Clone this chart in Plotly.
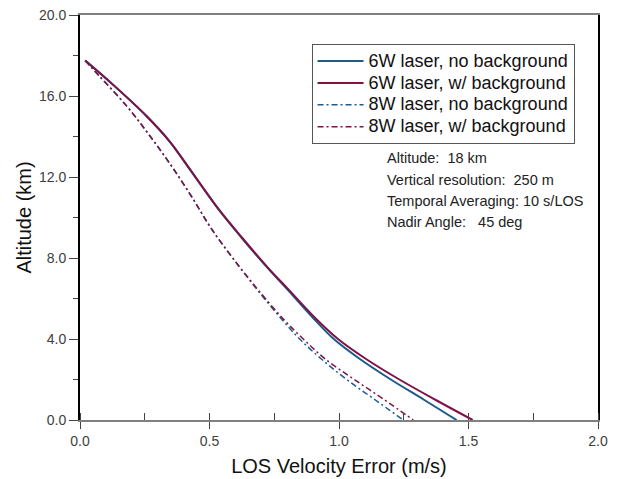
import plotly.graph_objects as go

# ---- data ----
alt_6w = [17.75, 16.5, 15.0, 13.75, 12.5, 10.5, 9.0, 7.5, 6.5, 5.0, 4.0, 3.0, 2.0, 1.0, 0.0]
err_6w_nobg = [0.020, 0.132, 0.257, 0.346, 0.417, 0.529, 0.624, 0.725, 0.797, 0.903, 0.980, 1.082, 1.200, 1.328, 1.454]
err_6w_bg = [0.020, 0.133, 0.258, 0.347, 0.418, 0.530, 0.626, 0.727, 0.801, 0.911, 0.996, 1.106, 1.233, 1.372, 1.516]

alt_8w = [17.75, 17.0, 15.5, 14.0, 12.5, 11.0, 9.5, 8.0, 6.5, 5.0, 4.0, 3.0, 2.0, 1.0, 0.0]
err_8w_nobg = [0.020, 0.073, 0.180, 0.271, 0.355, 0.432, 0.504, 0.589, 0.680, 0.777, 0.848, 0.933, 1.030, 1.139, 1.248]
err_8w_bg = [0.020, 0.074, 0.181, 0.272, 0.356, 0.433, 0.505, 0.590, 0.683, 0.784, 0.862, 0.948, 1.059, 1.175, 1.287]

series_names = ["6W laser, no background", "6W laser, w/ background",
                "8W laser, no background", "8W laser, w/ background"]

notes = ["Altitude:\u00a0 18 km", "Vertical resolution:\u00a0 250 m",
         "Temporal Averaging: 10 s/LOS", "Nadir Angle:\u00a0\u00a0 45 deg"]

BLUE = "#1d5b8c"
PURPLE = "#7d1447"
FONT = "Arial, Liberation Sans, sans-serif"
DASHDOT = "6px,3px,2px,3px"


def legend_label(s):
    # larger glyphs inside a compact legend row
    return "<span style='font-size:18px'>" + s + "</span>"


fig = go.Figure()
fig.add_trace(go.Scatter(x=err_6w_nobg, y=alt_6w, mode="lines", name=legend_label(series_names[0]),
                         line=dict(color=BLUE, width=2, shape="spline", smoothing=1)))
fig.add_trace(go.Scatter(x=err_6w_bg, y=alt_6w, mode="lines", name=legend_label(series_names[1]),
                         line=dict(color=PURPLE, width=2, shape="spline", smoothing=1)))
fig.add_trace(go.Scatter(x=err_8w_nobg, y=alt_8w, mode="lines", name=legend_label(series_names[2]),
                         line=dict(color=BLUE, width=1.5, dash=DASHDOT,
                                   shape="spline", smoothing=1)))
fig.add_trace(go.Scatter(x=err_8w_bg, y=alt_8w, mode="lines", name=legend_label(series_names[3]),
                         line=dict(color=PURPLE, width=1.5, dash=DASHDOT,
                                   shape="spline", smoothing=1)))

note_y = [0.647, 0.593, 0.540, 0.488]
for t, yy in zip(notes, note_y):
    fig.add_annotation(text=t, xref="paper", yref="paper", x=0.589, y=yy,
                       xanchor="left", yanchor="middle", showarrow=False,
                       font=dict(family=FONT, size=14.5, color="#222222"))

# page has an 8px body margin, so the figure is sized/margined to compensate
fig.update_layout(
    width=612, height=471,
    margin=dict(l=72, r=22, t=7, b=59),
    paper_bgcolor="white", plot_bgcolor="white",
    font=dict(family=FONT, color="#333333"),
    showlegend=True,
    legend=dict(x=0.447, y=0.928, xanchor="left", yanchor="top",
                bgcolor="white", bordercolor="#555555", borderwidth=1,
                font=dict(family=FONT, size=14.5, color="#111111"),
                itemwidth=46, tracegroupgap=0),
    xaxis=dict(range=[0, 2], dtick=0.5, tick0=0, tickformat=".1f",
               automargin=False, showgrid=False, zeroline=False,
               showline=True, linecolor="#808080", linewidth=1.5, mirror=True,
               ticks="outside", ticklen=7, tickcolor="#444444", tickwidth=1,
               minor=dict(dtick=0.25, ticks="inside", ticklen=7, tickcolor="#444444"),
               ticklabeloverflow="allow",
               tickfont=dict(family=FONT, size=14, color="#404040"),
               title=dict(text="LOS Velocity Error (m/s)", standoff=11,
                          font=dict(family=FONT, size=20, color="#111111"))),
    yaxis=dict(range=[0, 20], dtick=4, tick0=0, tickformat=".1f",
               automargin=False, showgrid=False, zeroline=False,
               showline=True, linecolor="#000000", linewidth=2, mirror=True,
               ticks="outside", ticklen=9, tickcolor="#444444", tickwidth=1,
               minor=dict(dtick=2, ticks="outside", ticklen=5, tickcolor="#444444"),
               ticklabeloverflow="allow",
               tickfont=dict(family=FONT, size=14, color="#404040"),
               title=dict(text="Altitude (km)", standoff=2,
                          font=dict(family=FONT, size=20, color="#111111"))),
)

fig.write_html("out.html")
